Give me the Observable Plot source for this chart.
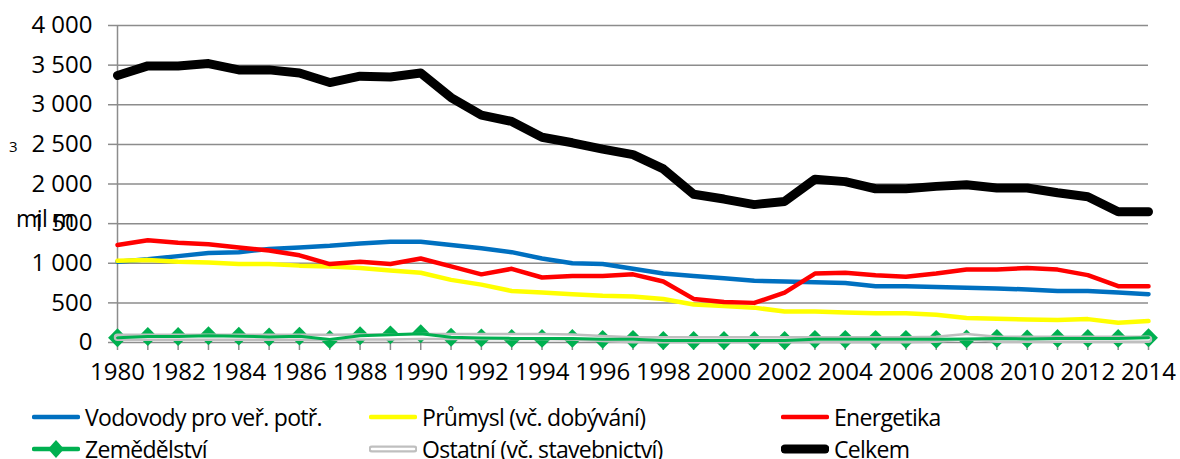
<!DOCTYPE html>
<html>
<head>
<meta charset="utf-8">
<script src="https://cdn.jsdelivr.net/npm/d3@7"></script>
<script src="https://cdn.jsdelivr.net/npm/@observablehq/plot@0.6"></script>
<style>
  html, body { margin: 0; padding: 0; background: #fff; }
  #wrap { position: relative; width: 1180px; height: 459px; overflow: hidden; font-family: "Open Sans", sans-serif; color: #000; }
  .lbl { position: absolute; font-family: "Open Sans", sans-serif; white-space: nowrap; }
  .leg { position: absolute; display: flex; align-items: center; height: 30px; font-size: 23px; letter-spacing: -0.7px; white-space: nowrap; }
  .leg svg { display: block; margin-right: 5px; }
</style>
</head>
<body>
<div id="wrap"></div>
<script>
const years = [1980,1981,1982,1983,1984,1985,1986,1987,1988,1989,1990,1991,1992,1993,1994,1995,1996,1997,1998,1999,2000,2001,2002,2003,2004,2005,2006,2007,2008,2009,2010,2011,2012,2013,2014];
const vodovody   = [1020,1050,1090,1130,1140,1180,1200,1220,1250,1270,1270,1230,1190,1140,1060,1000,990,930,870,840,810,780,770,760,750,710,710,700,690,680,670,650,650,630,610];
const prumysl    = [1030,1040,1020,1010,990,990,970,960,940,910,880,790,730,650,630,610,590,580,550,480,460,440,390,390,380,370,370,350,310,300,290,285,295,250,270];
const energetika = [1230,1290,1260,1240,1200,1160,1100,990,1020,990,1060,960,860,930,820,840,840,860,770,550,510,500,630,870,880,850,830,870,920,920,940,920,850,710,710];
const zemedelstvi= [60,75,75,85,80,70,80,38,85,97,110,66,58,52,52,52,40,40,25,25,25,25,25,40,40,40,40,40,45,52,45,52,52,52,60];
const ostatni    = [65,65,65,65,65,65,65,65,70,70,75,75,75,75,75,70,50,35,35,35,35,35,35,35,35,35,35,40,75,40,40,40,40,40,40];
const celkem     = [3370,3490,3490,3520,3440,3440,3400,3280,3360,3350,3400,3090,2870,2790,2590,2520,2440,2370,2190,1870,1810,1740,1780,2060,2030,1940,1940,1970,1990,1950,1950,1890,1840,1650,1650];
const yTicks = [0,500,1000,1500,2000,2500,3000,3500,4000];
const seriesNames = ["Vodovody pro veř. potř.","Průmysl (vč. dobývání)","Energetika","Zemědělství","Ostatní (vč. stavebnictví)","Celkem"];
const unitLabel = "mil m";
const unitSup = "3";

const rows = (vals) => years.map((y, i) => ({year: y, value: vals[i]}));
const fmt = d3.formatLocale({decimal: ",", thousands: " ", grouping: [3], currency: ["", ""]}).format(",");
const gray = "#8c8c8c";

const chart = Plot.plot({
  width: 1180,
  height: 400,
  marginTop: 25,
  marginBottom: 58,
  marginLeft: 117,
  marginRight: 32,
  style: {fontFamily: "Open Sans, sans-serif", fontSize: "24px", color: "#000", background: "#fff"},
  x: {type: "linear", domain: [1980, 2014]},
  y: {domain: [0, 4000]},
  marks: [
    Plot.gridY(yTicks, {stroke: gray, strokeOpacity: 1, strokeWidth: 1.5}),
    Plot.axisY(yTicks, {tickSize: 9, tickPadding: 16, tickFormat: fmt, stroke: gray, strokeWidth: 1.5, label: null, fontSize: 24}),
    Plot.ruleX([1980], {stroke: gray, strokeWidth: 1.5}),
    Plot.axisX(years, {tickSize: 8, tickPadding: 12, tickFormat: d => d % 2 === 0 ? String(d) : "", stroke: gray, strokeWidth: 1.5, label: null, fontSize: 24}),
    Plot.line(rows(vodovody), {x: "year", y: "value", stroke: "#0070C0", strokeWidth: 4.5}),
    Plot.line(rows(prumysl), {x: "year", y: "value", stroke: "#FFFF00", strokeWidth: 4.5}),
    Plot.line(rows(energetika), {x: "year", y: "value", stroke: "#FF0000", strokeWidth: 4.5}),
    Plot.dot(rows(zemedelstvi), {x: "year", y: "value", symbol: "diamond2", r: 8.5, fill: "#00B050", stroke: "none"}),
    Plot.line(rows(ostatni), {x: "year", y: "value", stroke: "#BFBFBF", strokeWidth: 7.5}),
    Plot.line(rows(ostatni), {x: "year", y: "value", stroke: "#ffffff", strokeWidth: 2.5}),
    Plot.line(rows(zemedelstvi), {x: "year", y: "value", stroke: "#00B050", strokeWidth: 3}),
    Plot.line(rows(celkem), {x: "year", y: "value", stroke: "#000", strokeWidth: 9})
  ]
});

const wrap = document.getElementById("wrap");
wrap.appendChild(chart);

// y unit label (as in the original: "mil m" with detached superscript)
const u1 = document.createElement("div");
u1.className = "lbl"; u1.textContent = unitLabel;
u1.style.cssText += "left:16px;top:203px;font-size:23px;line-height:30px;letter-spacing:-0.5px;";
wrap.appendChild(u1);
const u2 = document.createElement("div");
u2.className = "lbl"; u2.textContent = unitSup;
u2.style.cssText += "left:9px;top:136px;font-size:15px;line-height:20px;";
wrap.appendChild(u2);

// legend
const legendDefs = [
  {name: seriesNames[0], left: 32,  top: 402, kind: "line", color: "#0070C0"},
  {name: seriesNames[1], left: 369, top: 402, kind: "line", color: "#FFFF00"},
  {name: seriesNames[2], left: 781, top: 402, kind: "line", color: "#FF0000"},
  {name: seriesNames[3], left: 32,  top: 434, kind: "diamond", color: "#00B050"},
  {name: seriesNames[4], left: 369, top: 434, kind: "double", color: "#BFBFBF"},
  {name: seriesNames[5], left: 781, top: 434, kind: "thick", color: "#000"}
];
for (const d of legendDefs) {
  const item = document.createElement("div");
  item.className = "leg";
  item.style.left = d.left + "px";
  item.style.top = d.top + "px";
  let sw = "";
  if (d.kind === "line") sw = `<line x1="2" y1="10" x2="46" y2="10" stroke="${d.color}" stroke-width="4.5" stroke-linecap="round"/>`;
  if (d.kind === "diamond") sw = `<line x1="2" y1="10" x2="46" y2="10" stroke="${d.color}" stroke-width="4.5" stroke-linecap="round"/><path d="M24 1 L32 10 L24 19 L16 10 Z" fill="${d.color}"/>`;
  if (d.kind === "double") sw = `<line x1="3" y1="10" x2="45" y2="10" stroke="${d.color}" stroke-width="7" stroke-linecap="round"/><line x1="3" y1="10" x2="45" y2="10" stroke="#fff" stroke-width="2.5" stroke-linecap="round"/>`;
  if (d.kind === "thick") sw = `<line x1="4" y1="10" x2="44" y2="10" stroke="${d.color}" stroke-width="9" stroke-linecap="round"/>`;
  item.innerHTML = `<svg width="48" height="20">${sw}</svg><span>${d.name}</span>`;
  wrap.appendChild(item);
}
</script>
</body>
</html>
